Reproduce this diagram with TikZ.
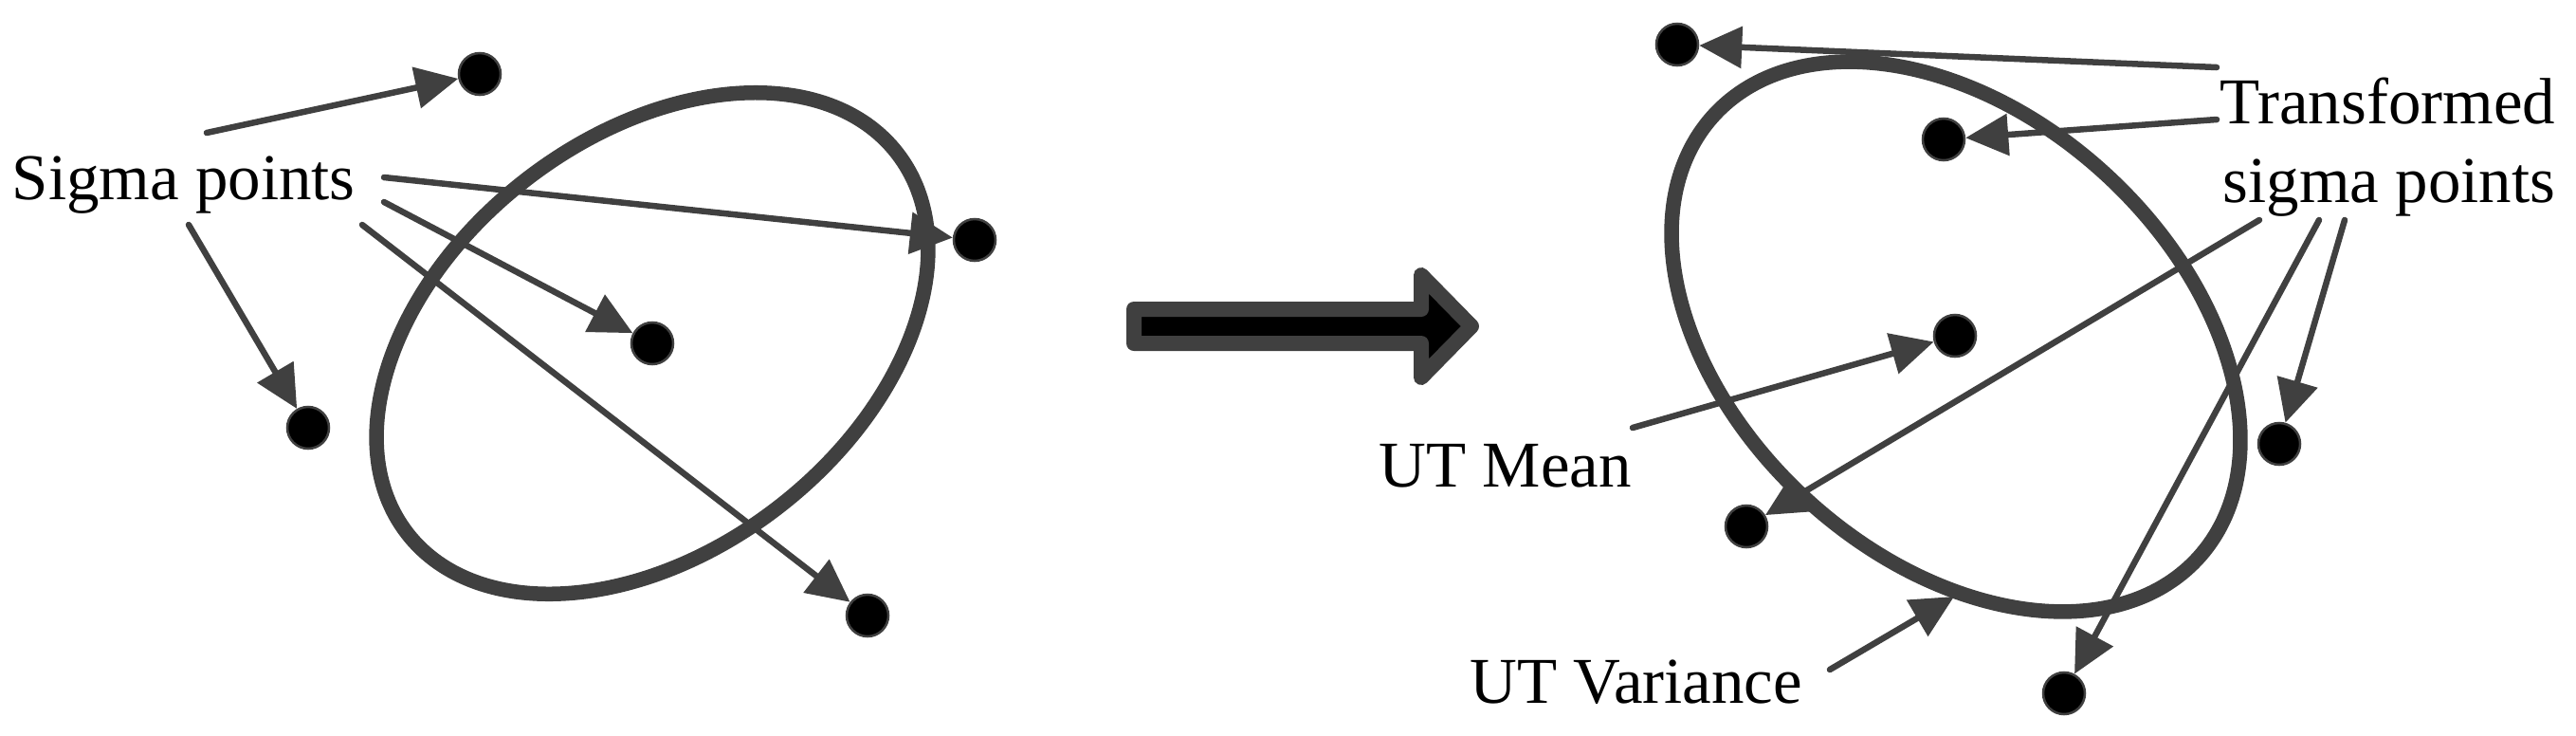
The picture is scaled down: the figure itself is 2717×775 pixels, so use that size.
\documentclass[tikz,border=0pt]{standalone}
\usepackage{fontspec}
\setmainfont{Liberation Serif}
\usepackage{tikz}
\usetikzlibrary{arrows.meta,positioning,calc}
\usepackage{xcolor}
\definecolor{linegray}{HTML}{404040}

\tikzset{
    dot/.style={circle, fill=black, draw=linegray, line width=0.025cm, minimum size=0.44cm, inner sep=0pt},
    lbl/.style={inner sep=0pt, anchor=base west, font=\fontsize{19.6pt}{23.5pt}\selectfont},
    pointer/.style={draw=linegray, line width=0.065cm, line cap=round, -{Triangle[length=0.45cm,width=0.43cm]}},
    cov/.style={draw=linegray, line width=0.155cm}
}

\begin{document}
\begin{tikzpicture}[x=0.01cm,y=-0.01cm]
            \useasboundingbox (0,0) rectangle (2717,775);
            % Left: sigma points and their ellipse
            \draw[cov, rotate around={37.8:(688,362)}] (688,362) ellipse [x radius=327, y radius=218];
            \node[dot] (a) at (506,78) {};
            \node[dot] (b) at (1028,253) {};
            \node[dot] (c) at (688,362) {};
            \node[dot] (d) at (325,451) {};
            \node[dot] (e) at (915,649) {};
            \node[lbl] (sigma) at (12,210) {Sigma points};
            \coordinate (sa) at (218,140); \coordinate (sb) at (405,187);
            \coordinate (sc) at (405,213); \coordinate (se) at (382,237);
            \coordinate (sd) at (199,237);
            \draw[pointer] (sa) -- (a);
            \draw[pointer] (sb) -- (b);
            \draw[pointer] (sc) -- (c);
            \draw[pointer] (se) -- (e);
            \draw[pointer] (sd) -- (d);
            % Middle: block arrow
            \draw[fill=black, draw=linegray, line width=0.16cm, line join=round]
                (1196,326) -- (1499,326) -- (1499,290) -- (1552,344) -- (1499,398) -- (1499,362) -- (1196,362) -- cycle;
            % Right: transformed points, mean and variance
            \draw[cov, rotate around={-42.4:(2063,355)}] (2063,355) ellipse [x radius=346, y radius=233];
            \node[dot] (f) at (1769,47) {};
            \node[dot] (g) at (2050,147) {};
            \node[dot] (h) at (2062,354) {};
            \node[dot] (i) at (2404,468) {};
            \node[dot] (j) at (1842,555) {};
            \node[dot] (k) at (2177,731) {};
            \node[lbl] (trans) at (2341,130) {Transformed};
            \node[lbl] (transsig) at (2344,213) {sigma points};
            \node[lbl] (mean) at (1454,513) {UT Mean};
            \node[lbl] (var) at (1550,741) {UT Variance};
            \coordinate (sf) at (2338,71); \coordinate (sg) at (2338,126);
            \coordinate (sj) at (2383,232); \coordinate (sk) at (2446,232);
            \coordinate (si) at (2473,232);
            \coordinate (sm) at (1722,451); \coordinate (sv) at (1930,706);
            \coordinate (varend) at (2061,629);
            \draw[pointer] (sf) -- (f);
            \draw[pointer] (sg) -- (g);
            \draw[pointer] (sj) -- (j);
            \draw[pointer] (sk) -- (k);
            \draw[pointer] (si) -- (i);
            \draw[pointer] (sm) -- (h);
            \draw[pointer] (sv) -- (varend);
        \end{tikzpicture}
\end{document}
